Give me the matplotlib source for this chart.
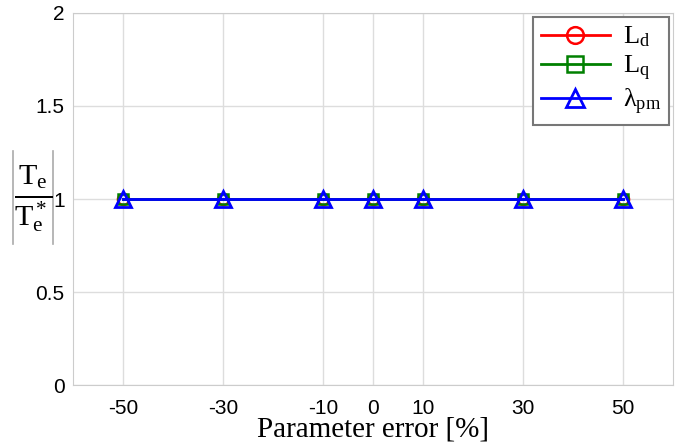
import matplotlib
matplotlib.use('Agg')
import matplotlib.pyplot as plt
from matplotlib.lines import Line2D

# data
param_error = [-50, -30, -10, 0, 10, 30, 50]
ld_ratio = [1.0, 1.0, 1.0, 1.0, 1.0, 1.0, 1.0]
lq_ratio = [1.0, 1.0, 1.0, 1.0, 1.0, 1.0, 1.0]
lpm_ratio = [1.0, 1.0, 1.0, 1.0, 1.0, 1.0, 1.0]
y_ticks = [0, 0.5, 1, 1.5, 2]

plt.rcParams['font.family'] = ['Liberation Sans', 'DejaVu Sans']
plt.rcParams['mathtext.fontset'] = 'custom'
plt.rcParams['mathtext.rm'] = 'Liberation Serif'
plt.rcParams['mathtext.it'] = 'Liberation Serif'

fig = plt.figure(figsize=(6.98, 4.45), dpi=100)
ax = fig.add_axes([0.1046, 0.1348, 0.8596, 0.836])

ax.plot(param_error, ld_ratio, color='red', lw=2, marker='o', ms=8,
        mfc='none', mew=1.8, label=r'$\mathrm{L_d}$')
ax.plot(param_error, lq_ratio, color='green', lw=2, marker='s', ms=7,
        mfc='none', mew=1.8, label=r'$\mathrm{L_q}$')
ax.plot(param_error, lpm_ratio, color='blue', lw=2, marker='^', ms=12,
        mfc='none', mew=2, label=r'$\mathrm{\lambda_{pm}}$')

ax.set_xlim(-60, 60)
ax.set_ylim(0, 2)
ax.set_xticks(param_error)
ax.set_xticklabels([str(v) for v in param_error])
ax.set_yticks(y_ticks)
ax.set_yticklabels(['0', '0.5', '1', '1.5', '2'])
ax.tick_params(length=0, labelsize=15)
ax.tick_params(axis='x', pad=10)
ax.tick_params(axis='y', pad=6)
ax.grid(True, color='#dddddd', lw=1)
for s in ax.spines.values():
    s.set_color('#cccccc')

ax.set_xlabel('Parameter error [%]', family='Liberation Serif', fontsize=21, labelpad=-1)

# y label: |Te / Te*| with thin gray bars
fig.text(0.0473, 0.553, r'$\frac{\mathrm{T_e}}{\mathrm{T_e^*}}$',
         fontsize=31, ha='center', va='center')
for bx in (13 / 698, 53 / 698):
    fig.add_artist(Line2D([bx, bx], [(445 - 244) / 445, (445 - 151) / 445],
                          color='#aaaaaa', lw=1.2, transform=fig.transFigure))

leg = ax.legend(loc='upper right', fontsize=19, fancybox=False, framealpha=1,
                borderpad=0.3, handlelength=2.6, labelspacing=0.15,
                handletextpad=0.5, borderaxespad=0.15)
leg.get_frame().set_edgecolor('#777777')
leg.get_frame().set_linewidth(1.5)
for h, ms in zip(leg.legend_handles, (12, 11, 13)):
    h.set_markersize(ms)

plt.savefig('out.png', dpi=100)
